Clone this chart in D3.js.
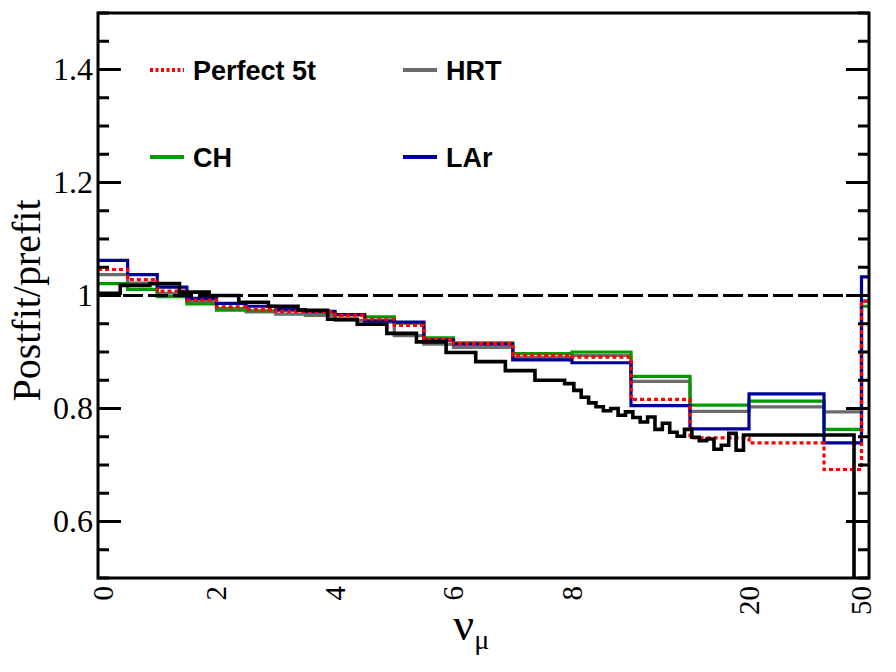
<!DOCTYPE html>
<html>
<head>
<meta charset="utf-8">
<script src="https://cdn.jsdelivr.net/npm/d3@7"></script>
<style>
  body { margin: 0; background: #fff; }
  text { font-family: "Liberation Serif", "Times New Roman", serif; fill: #000; }
  .legend text { font-family: "Liberation Sans", Arial, sans-serif; font-weight: bold; }
</style>
</head>
<body>
<div id="chart"></div>
<script>
// coarse bin edges (GeV), shared by the four detector fits
var coarseEdges = [0, 0.5, 1, 1.5, 2, 2.5, 3, 3.5, 4, 4.5, 5, 5.5, 6, 7, 8, 12, 16, 20, 40, 50, 52];

var perfect5t = [1.046, 1.028, 1.008, 0.992, 0.980, 0.975, 0.972, 0.971, 0.965, 0.958,
                 0.947, 0.922, 0.915, 0.894, 0.891, 0.816, 0.748, 0.739, 0.692, 0.990];
var hrt       = [1.037, 1.022, 1.004, 0.989, 0.977, 0.971, 0.967, 0.965, 0.956, 0.953,
                 0.929, 0.914, 0.908, 0.890, 0.894, 0.848, 0.795, 0.803, 0.794, 0.990];
var ch        = [1.021, 1.011, 0.998, 0.985, 0.974, 0.973, 0.974, 0.970, 0.966, 0.962,
                 0.951, 0.925, 0.916, 0.897, 0.900, 0.857, 0.806, 0.813, 0.763, 0.981];
var lar       = [1.062, 1.037, 1.015, 0.995, 0.986, 0.981, 0.975, 0.972, 0.966, 0.955,
                 0.953, 0.921, 0.914, 0.886, 0.881, 0.805, 0.764, 0.826, 0.739, 1.033];

// fine binned curve (black, no legend entry)
var fineEdges = [0, 0.375, 0.875, 1.375, 1.875, 2.375, 2.875, 3.375, 3.875, 4.375, 4.875,
                 5.375, 5.875, 6.375, 6.875, 7.375, 7.875, 8.125, 8.625, 9.125, 9.625,
                 10.125, 10.625, 11.125, 11.625, 12.125, 12.625, 13.125, 13.625, 14.125,
                 14.625, 15.125, 15.625, 16.125, 16.625, 17.125, 17.625, 18.125, 18.625,
                 19.125, 19.625, 48, 52];
var fineRatio = [1.004, 1.018, 1.021, 1.006, 1.000, 0.988, 0.981, 0.974, 0.958, 0.949,
                 0.933, 0.918, 0.899, 0.883, 0.867, 0.850, 0.844, 0.832, 0.820, 0.810,
                 0.803, 0.796, 0.800, 0.788, 0.794, 0.784, 0.776, 0.785, 0.763, 0.774,
                 0.758, 0.751, 0.763, 0.749, 0.743, 0.746, 0.728, 0.735, 0.756, 0.726,
                 0.753, 0.300];

var xTickValues = [0, 2, 4, 6, 8, 20, 50];
var yTickValues = [0.6, 0.8, 1, 1.2, 1.4];
var legendNames = ["Perfect 5t", "HRT", "CH", "LAr"];

function ratioChart_func () {
    var margin = {top: 13, right: 27, bottom: 94, left: 98},
        width = 896 - margin.left - margin.right,
        height = 672 - margin.top - margin.bottom;

    // piecewise axis: 0-8 GeV stretched, 8-20 and 20-52 compressed
    var x = d3.scaleLinear().domain([0, 8, 20, 52]).range([0, 474, 651, width]),
        y = d3.scaleLinear().domain([0.5, 1.5]).range([height, 0]);

    var svg = d3.select("#chart").append("svg")
            .attr("width", width + margin.left + margin.right)
            .attr("height", height + margin.top + margin.bottom)
          .append("g")
            .attr("transform", "translate(" + margin.left + "," + margin.top + ")");

    svg.append("clipPath").attr("id", "plotClip")
      .append("rect").attr("width", width).attr("height", height);

    var series = [
        {name: "HRT", vals: hrt, color: "#6b6b6b", dash: null},
        {name: "CH", vals: ch, color: "#009900", dash: null},
        {name: "LAr", vals: lar, color: "#000099", dash: null},
        {name: "Perfect 5t", vals: perfect5t, color: "#ff0000", dash: "4,3"}
    ];

    function stepPoints(edges, vals) {
        var pts = vals.map(function(v, i) { return [edges[i], v]; });
        pts.push([edges[edges.length - 1], vals[vals.length - 1]]);
        return pts;
    }

    var line = d3.line()
        .curve(d3.curveStepAfter)
        .x(function(d) { return x(d[0]); })
        .y(function(d) { return y(d[1]); });

    var plot = svg.append("g").attr("clip-path", "url(#plotClip)");

    plot.selectAll("path.fit")
        .data(series)
        .enter().append("path")
        .attr("class", "fit")
        .attr("fill", "none")
        .attr("stroke", function(d) { return d.color; })
        .attr("stroke-width", 3.2)
        .attr("stroke-dasharray", function(d) { return d.dash; })
        .attr("d", function(d) { return line(stepPoints(coarseEdges, d.vals)); });

    // unity reference
    plot.append("line")
        .attr("x1", 0).attr("x2", width)
        .attr("y1", y(1)).attr("y2", y(1))
        .attr("stroke", "#000")
        .attr("stroke-width", 3)
        .attr("stroke-dasharray", "20,5");

    plot.append("path")
        .attr("fill", "none")
        .attr("stroke", "#000")
        .attr("stroke-width", 3.6)
        .attr("d", line(stepPoints(fineEdges, fineRatio)));

    // ticks on both vertical sides, pointing inward
    var minor = y.ticks(20);
    [0, width].forEach(function(xpos, side) {
        var dir = side === 0 ? 1 : -1;
        svg.append("g").selectAll("line")
            .data(minor)
            .enter().append("line")
            .attr("x1", xpos)
            .attr("x2", function(d) {
                var major = yTickValues.some(function(t) { return Math.abs(t - d) < 1e-6; });
                return xpos + dir * (major ? 23 : 11);
            })
            .attr("y1", function(d) { return y(d); })
            .attr("y2", function(d) { return y(d); })
            .attr("stroke", "#000")
            .attr("stroke-width", 3);
    });

    svg.append("g").selectAll("text")
        .data(yTickValues)
        .enter().append("text")
        .attr("x", -5)
        .attr("y", function(d) { return y(d); })
        .attr("dy", "0.34em")
        .attr("text-anchor", "end")
        .style("font-size", "32px")
        .text(function(d) { return d; });

    svg.append("g").selectAll("text")
        .data(xTickValues)
        .enter().append("text")
        .attr("transform", function(d, i) {
            return "translate(" + (x(d) + (i === 0 ? 5 : 0)) + "," + (height + 8) + ")rotate(-90)";
        })
        .attr("dy", "0.34em")
        .attr("text-anchor", "end")
        .style("font-size", "29px")
        .text(function(d) { return d; });

    // frame
    svg.append("rect")
        .attr("width", width).attr("height", height)
        .attr("fill", "none")
        .attr("stroke", "#000")
        .attr("stroke-width", 3);

    // axis titles
    svg.append("text")
        .attr("transform", "translate(" + (-58) + "," + (height / 2 + 5) + ")rotate(-90)")
        .attr("text-anchor", "middle")
        .style("font-size", "40px")
        .text("Postfit/prefit");

    var xt = svg.append("text")
        .attr("x", x(6.3))
        .attr("y", height + 62)
        .attr("text-anchor", "middle")
        .style("font-size", "46px");
    xt.append("tspan").text("\u03bd");
    xt.append("tspan").attr("dy", 9).style("font-size", "28px").text("\u03bc");

    // legend, two columns
    var legend = svg.append("g").attr("class", "legend")
        .selectAll("g")
        .data(legendNames)
        .enter().append("g")
        .attr("transform", function(d, i) {
            return "translate(" + (52 + (i % 2) * 253) + "," + (57 + Math.floor(i / 2) * 87) + ")";
        });

    legend.append("line")
        .attr("x1", 0).attr("x2", 34)
        .attr("stroke", function(d) { return series.filter(function(s) { return s.name === d; })[0].color; })
        .attr("stroke-width", 4)
        .attr("stroke-dasharray", function(d) { return d === "Perfect 5t" ? "3,2.5" : null; });

    legend.append("text")
        .attr("x", 43)
        .attr("dy", "0.36em")
        .style("font-size", "27px")
        .text(function(d) { return d; });
}

ratioChart_func ();
</script>
</body>
</html>
